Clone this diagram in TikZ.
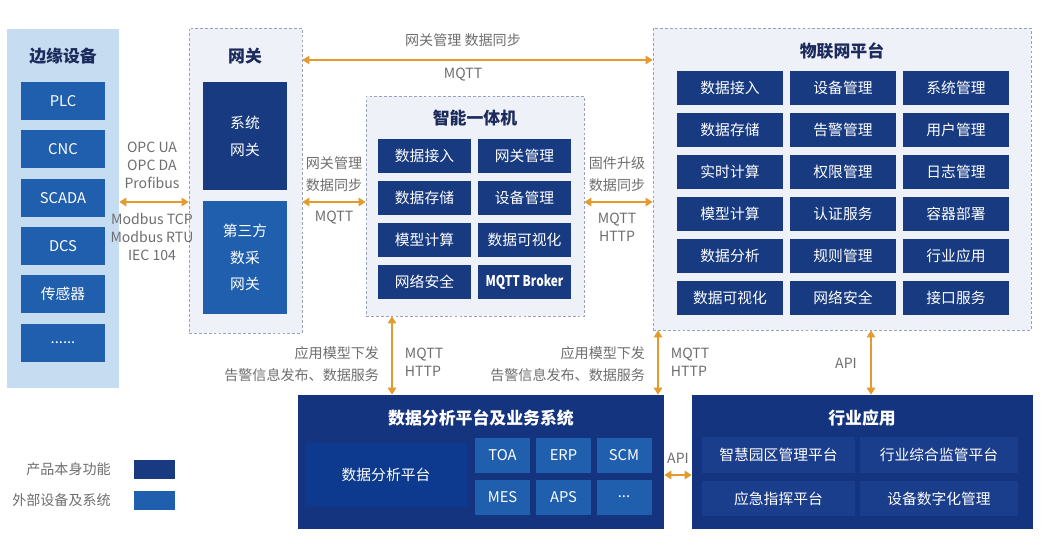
\documentclass[tikz,border=0pt]{standalone}
\usepackage{fontspec}
\setmainfont{Noto Sans CJK SC}
\usetikzlibrary{arrows.meta,positioning,calc}

\definecolor{navy}{HTML}{173A80}
\definecolor{boxnavy}{HTML}{15347F}
\definecolor{cellnavy}{HTML}{1A3D8C}
\definecolor{panelblue}{HTML}{0D3A8E}
\definecolor{midblue}{HTML}{1F5FAD}
\definecolor{lightpanel}{HTML}{C6DCF1}
\definecolor{greypanel}{HTML}{EEF1F8}
\definecolor{framegrey}{HTML}{9AA3B5}
\definecolor{linkorange}{HTML}{E39B2E}
\definecolor{titlenavy}{HTML}{1C2B5C}
\definecolor{labelgrey}{HTML}{6E6E6E}

\newcommand\pxu{0.025cm}
\newcommand\longdots{......}
\newcommand\shortdots{...}
\newcommand\brokerlabel{\scalebox{0.8}[1]{\textbf{MQTT Broker}}}

\tikzset{
  sz/.style args={#1x#2}{minimum width=#1*\pxu,minimum height=#2*\pxu,inner sep=0pt},
  own/.style={fill=navy,text=white,font=\fontsize{10.5}{13}\selectfont},
  ext/.style={fill=midblue,text=white,font=\fontsize{10.5}{13}\selectfont},
  frame/.style={draw=framegrey,dashed,dash pattern=on 2pt off 1.5pt,fill=greypanel,line width=0.5pt},
  ttl/.style={text=titlenavy,font=\fontsize{12}{14}\selectfont\bfseries},
  lbl/.style={text=labelgrey,font=\fontsize{10}{12.8}\selectfont,align=center},
  zlbl/.style={text=labelgrey,font=\fontsize{10}{15.5}\selectfont,align=center},
  link/.style={linkorange,line width=1.2pt,{Triangle[length=5pt,width=6pt]}-{Triangle[length=5pt,width=6pt]}},
}

\begin{document}
\begin{tikzpicture}[x=0.025cm,y=-0.025cm]
    \fill[white] (0,0) rectangle (1045,546);
    \useasboundingbox (0,0) rectangle (1045,546);

    % Edge devices
    \node[sz=112x359,fill=lightpanel] (edge) at (63,208.5) {};
    \node[ttl] (edget) at (63,56) {边缘设备};
    \foreach \name [count=\i from 0] in {PLC,CNC,SCADA,DCS,传感器,\longdots}
        \node[ext,sz=84x38] (e\i) at (63,{101+48.3*\i}) {\name};

    % Gateway
    \node[frame,sz=113x305] (gw) at (245.5,180.5) {};
    \node[ttl] (gwt) at (245,56) {网关};
    \node[own,sz=84x108,align=center,font=\fontsize{10.5}{19}\selectfont] (gws) at (245,136) {系统\\网关};
    \node[ext,sz=84x113,align=center,font=\fontsize{10.5}{19}\selectfont] (gwd) at (245,257.5) {第三方\\数采\\网关};

    % All-in-one box
    \node[frame,sz=218x220] (ai) at (475,206) {};
    \node[ttl] (ait) at (475,118) {智能一体机};
    \foreach \a/\b [count=\r from 0] in {数据接入/网关管理,数据存储/设备管理,模型计算/数据可视化,网络安全/\brokerlabel} {
        \node[own,sz=93x34] (ai-\r-a) at (424.5,{156+42*\r}) {\a};
        \node[own,sz=93x34] (ai-\r-b) at (524.5,{156+42*\r}) {\b};
    }

    % IoT platform
    \node[frame,sz=378x302] (iot) at (842,179) {};
    \node[ttl] (iott) at (842,51) {物联网平台};
    \foreach \a/\b/\c [count=\r from 0] in {数据接入/设备管理/系统管理,数据存储/告警管理/用户管理,实时计算/权限管理/日志管理,模型计算/认证服务/容器部署,数据分析/规则管理/行业应用,数据可视化/网络安全/接口服务} {
        \node[own,sz=106x34] (iot-\r-a) at (730,{88+42*\r}) {\a};
        \node[own,sz=106x34] (iot-\r-b) at (843,{88+42*\r}) {\b};
        \node[own,sz=106x34] (iot-\r-c) at (956,{88+42*\r}) {\c};
    }

    % Data analysis and business systems
    \node[sz=366x134,fill=boxnavy] (da) at (481,462) {};
    \node[ttl,text=white] (dat) at (481,418) {数据分析平台及业务系统};
    \node[own,sz=162x64,fill=panelblue] (dap) at (386,475) {数据分析平台};
    \foreach \n/\x/\y [count=\i] in {TOA/502.5/455.5,ERP/563.5/455.5,SCM/624/455.5,MES/502.5/497,APS/563.5/497,\shortdots/624/497}
        \node[ext,sz=55x35] (biz\i) at (\x,\y) {\n};

    % Industry applications
    \node[sz=341x134,fill=boxnavy] (ind) at (862.5,462) {};
    \node[ttl,text=white] (indt) at (862,418) {行业应用};
    \node[own,sz=153x36,fill=cellnavy] (ind1) at (778.5,455) {智慧园区管理平台};
    \node[own,sz=158x36,fill=cellnavy] (ind2) at (939,455) {行业综合监管平台};
    \node[own,sz=153x35,fill=cellnavy] (ind3) at (778.5,498.5) {应急指挥平台};
    \node[own,sz=158x35,fill=cellnavy] (ind4) at (939,498.5) {设备数字化管理};

    % Legend
    \node[own,sz=41x19] (lg1) at (154.5,469.5) {};
    \node[ext,sz=41x19] (lg2) at (154.5,500.5) {};
    \node[lbl,left=0.45cm of lg1] (lg1t) {产品本身功能};
    \node[lbl,left=0.45cm of lg2] (lg2t) {外部设备及系统};

    % Connectors
    \coordinate (lvl) at (0,202);
    \coordinate (top) at (0,60);
    \coordinate (c1) at (392,0);
    \coordinate (c2) at (658,0);
    \coordinate (c3) at (871,0);
    \coordinate (c4) at (0,475);

    \draw[link] (edge.east |- lvl) -- (gw.west |- lvl);
    \node[lbl] (p1) at (152,165) {OPC UA\\OPC DA\\Profibus};
    \node[lbl] (p2) at (152,237) {Modbus TCP\\Modbus RTU\\IEC 104};

    \draw[link] (gw.east |- top) -- (iot.west |- top);
    \node[zlbl] (p3) at (463,40) {网关管理 数据同步};
    \node[lbl] (p4) at (463,75) {MQTT};

    \draw[link] (gw.east |- lvl) -- (ai.west |- lvl);
    \node[zlbl] (p5) at (334,174) {网关管理\\数据同步};
    \node[lbl] (p6) at (334,218) {MQTT};

    \draw[link] (ai.east |- lvl) -- (iot.west |- lvl);
    \node[zlbl] (p7) at (617,174) {固件升级\\数据同步};
    \node[lbl] (p8) at (617,227) {MQTT\\HTTP};

    \draw[link] (ai.south -| c1) -- (da.north -| c1);
    \node[zlbl,align=right,anchor=east] (p9) at (384,364) {应用模型下发\\告警信息发布、数据服务};
    \node[lbl,align=left,anchor=west] (p10) at (400,362) {MQTT\\HTTP};

    \draw[link] (iot.south -| c2) -- (da.north -| c2);
    \node[zlbl,align=right,anchor=east] (p11) at (650,364) {应用模型下发\\告警信息发布、数据服务};
    \node[lbl,align=left,anchor=west] (p12) at (666,362) {MQTT\\HTTP};

    \draw[link] (iot.south -| c3) -- (ind.north -| c3);
    \node[lbl] (p13) at (846,363) {API};

    \draw[link] (da.east |- c4) -- (ind.west |- c4);
    \node[lbl] (p14) at (678,458) {API};
\end{tikzpicture}
\end{document}
